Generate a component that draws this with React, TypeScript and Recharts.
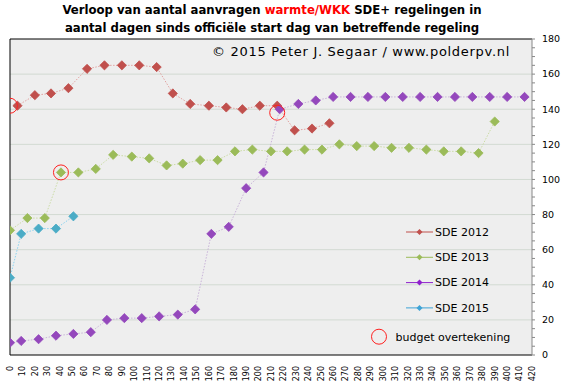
import React from 'react'
import { ComposedChart, Line, Scatter, XAxis, YAxis, CartesianGrid, ReferenceLine } from 'recharts'

const sde2012Days = [6, 20, 33, 47, 62, 76, 90, 104, 118, 131, 145, 160, 174, 187, 201, 215, 229, 243, 257]
const sde2012Values = [142, 148, 149, 152, 163, 165, 165, 165, 164, 149, 143, 142, 141, 140, 142, 142, 128, 129, 132]

const sde2013Days = [0, 14, 28, 41, 55, 69, 83, 98, 112, 126, 139, 153, 167, 181, 195, 210, 223, 237, 251, 265, 279, 293, 307, 321, 335, 349, 363, 377, 390]
const sde2013Values = [71, 78, 78, 104, 104, 106, 114, 113, 112, 108, 109, 111, 111, 116, 117, 116, 116, 117, 117, 120, 119, 119, 118, 118, 117, 116, 116, 115, 133]

const sde2014Days = [0, 9, 23, 37, 51, 65, 78, 92, 106, 120, 135, 149, 162, 176, 190, 204, 217, 232, 246, 260, 274, 288, 302, 316, 330, 344, 358, 372, 386, 400, 414]
const sde2014Values = [7, 8, 9, 11, 12, 13, 20, 21, 21, 22, 23, 26, 69, 73, 95, 104, 140, 143, 145, 147, 147, 147, 147, 147, 147, 147, 147, 147, 147, 147, 147]

const sde2015Days = [0, 9, 23, 37, 51]
const sde2015Values = [44, 69, 72, 72, 79]

const budgetDays = [0, 41, 215]
const budgetValues = [142, 104, 138]

const xTicks = Array.from({ length: 43 }, (_, i) => i * 10)
const yTicks = Array.from({ length: 37 }, (_, i) => i * 5)
const gridValues = [20, 40, 60, 80, 100, 120, 140, 160]

const FONT = '"DejaVu Sans", Verdana, sans-serif'

const toPoints = (days: number[], values: number[]) => days.map((d, i) => ({ day: d, v: values[i] }))

const SERIES = [
  { name: 'SDE 2012', data: toPoints(sde2012Days, sde2012Values), marker: '#c0504d', line: '#e2a3a1', legend: '#c0504d' },
  { name: 'SDE 2013', data: toPoints(sde2013Days, sde2013Values), marker: '#9bbb59', line: '#cbdca6', legend: '#9bbb59' },
  { name: 'SDE 2014', data: toPoints(sde2014Days, sde2014Values), marker: '#9448bc', line: '#c9b4d9', legend: '#8e1fcc' },
  { name: 'SDE 2015', data: toPoints(sde2015Days, sde2015Values), marker: '#4bacc6', line: '#8ad3f0', legend: '#3fa3d6' },
]

const budget = toPoints(budgetDays, budgetValues)

const diamond = (color: string, r = 4.6) => (props: any) => {
  const { cx, cy, index } = props
  if (cx == null || cy == null) return <g key={index} />
  return (
    <polygon key={index} points={`${cx},${cy - r} ${cx + r},${cy} ${cx},${cy + r} ${cx - r},${cy}`} fill={color} stroke={color} strokeWidth={0.8} />
  )
}

const XTick = ({ x, y, payload }: any) => (
  <text x={x} y={y} transform={`rotate(-90, ${x}, ${y})`} textAnchor="end" dy="0.35em" fontSize={8} fontFamily={FONT} fill="#000">
    {payload.value}
  </text>
)

const YTick = ({ x, y, payload }: any) =>
  payload.value % 20 === 0 ? (
    <text x={x} y={y} dy="0.35em" textAnchor="start" fontSize={9.5} fontFamily={FONT} fill="#000">
      {payload.value}
    </text>
  ) : (
    <g />
  )

// legend drawn as an overlay inside the plot area
function LegendBox() {
  return (
    <svg width={150} height={130} style={{ position: 'absolute', left: 370, top: 222 }}>
      {SERIES.map((s, i) => (
        <g key={s.name} transform={`translate(0, ${10 + i * 25.3})`}>
          <line x1={36} x2={63} y1={0} y2={0} stroke={s.legend} strokeWidth={1} />
          <polygon points="49.5,-3 52.5,0 49.5,3 46.5,0" fill={s.legend} />
          <text x={65} y={0} dy="0.35em" fontSize={11} fontFamily={FONT} fill="#000">
            {s.name}
          </text>
        </g>
      ))}
      <circle cx={9} cy={114.7} r={7.5} fill="none" stroke="#ff2020" strokeWidth={1} />
      <text x={25.5} y={114.7} dy="0.35em" fontSize={11} fontFamily={FONT} fill="#000">
        budget overtekening
      </text>
    </svg>
  )
}

export default function App() {
  return (
    <div style={{ position: 'absolute', left: 0, top: 0, width: 568, height: 383, background: '#fff', fontFamily: FONT }}>
      <div
        style={{
          position: 'absolute',
          left: 0,
          top: 1,
          width: 544,
          textAlign: 'center',
          fontWeight: 'bold',
          fontSize: 13,
          lineHeight: '18px',
          fontFamily: '"DejaVu Sans Condensed", "DejaVu Sans", sans-serif',
        }}
      >
        Verloop van aantal aanvragen <span style={{ color: '#ff0000' }}>warmte/WKK</span> SDE+ regelingen in
        <br />
        aantal dagen sinds officiële start dag van betreffende regeling
      </div>
      <ComposedChart width={568} height={383} margin={{ top: 39, right: 0, bottom: 0, left: 10 }}>
        <CartesianGrid horizontal vertical={false} fill="#eeeeee" stroke="#d2dad2" horizontalValues={gridValues} />
        <XAxis
          type="number"
          dataKey="day"
          domain={[0, 420]}
          ticks={xTicks}
          interval={0}
          tick={<XTick />}
          tickLine={false}
          axisLine={{ stroke: '#000' }}
          height={28}
          tickMargin={5}
          allowDataOverflow
        />
        <YAxis
          orientation="right"
          domain={[0, 180]}
          ticks={yTicks}
          interval={0}
          tick={<YTick />}
          tickSize={3}
          tickMargin={7}
          tickLine={{ stroke: '#888' }}
          axisLine={{ stroke: '#888' }}
          width={36}
        />
        <ReferenceLine y={180} stroke="#000" />
        <ReferenceLine x={0} stroke="#000" />
        {SERIES.map(s => (
          <Line
            key={s.name}
            data={s.data}
            dataKey="v"
            name={s.name}
            stroke={s.line}
            strokeWidth={1}
            strokeDasharray="1.5 1.5"
            dot={diamond(s.marker)}
            activeDot={false}
            isAnimationActive={false}
          />
        ))}
        <Scatter
          data={budget}
          dataKey="v"
          isAnimationActive={false}
          shape={(p: any) => <circle cx={p.cx} cy={p.cy} r={7.5} fill="none" stroke="#ff2020" strokeWidth={1} />}
        />
      </ComposedChart>
      <div style={{ position: 'absolute', left: 190, top: 44, width: 320, textAlign: 'right', fontSize: 13, letterSpacing: 0.7, whiteSpace: 'nowrap' }}>
        © 2015 Peter J. Segaar / www.polderpv.nl
      </div>
      <LegendBox />
    </div>
  )
}
